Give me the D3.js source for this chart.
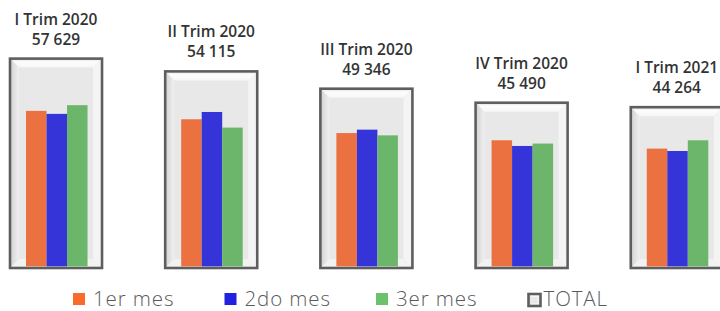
<!DOCTYPE html>
<html>
<head>
<meta charset="utf-8">
<script src="https://cdn.jsdelivr.net/npm/d3@7"></script>
<style>
  body { margin: 0; background: #fff; }
  svg { display: block; font-family: "Open Sans", Lato, sans-serif; }
</style>
</head>
<body>
<svg id="chart" width="720" height="311"></svg>
<script>
"use strict";

var quarters = ["I Trim 2020", "II Trim 2020", "III Trim 2020", "IV Trim 2020", "I Trim 2021"],
    months = ["1er mes", "2do mes", "3er mes"],
    totals = [57629, 54115, 49346, 45490, 44264],
    mes1 = [19100, 18080, 16404, 15529, 14515],
    mes2 = [18735, 18966, 16818, 14835, 14222],
    mes3 = [19794, 17069, 16124, 15126, 15527],
    monthColours = ["#ec7140", "#3434d8", "#6cb66c"],
    legendColours = ["#fa6a2c", "#2121e0", "#6cc26c"],

    plotTop = 50,
    plotBottom = 268,
    bevel = 9;

var fmt = d3.formatLocale({ decimal: ",", thousands: " ", grouping: [3], currency: ["", ""] }).format(",d");

var svg = d3.select("#chart");

var x = d3.scaleBand()
    .domain(quarters)
    .range([10, 722.8])
    .paddingInner(0.407)
    .paddingOuter(0);

// total on the main axis, months on a secondary one
var yTotal = d3.scaleLinear().domain([0, 60000]).range([plotBottom, plotTop]),
    yMonth = d3.scaleLinear().domain([0, 26500]).range([plotBottom, plotTop]);

var xMonth = d3.scaleBand()
    .domain(months)
    .range([16, x.bandwidth() - 14.5]);

var data = quarters.map(function(q, i) {
    return { quarter: q, total: totals[i], months: [mes1[i], mes2[i], mes3[i]] };
});

var defs = svg.append("defs");
var leftGrad = defs.append("linearGradient").attr("id", "bevel-left");
leftGrad.append("stop").attr("offset", "0%").attr("stop-color", "#d2d2d2");
leftGrad.append("stop").attr("offset", "100%").attr("stop-color", "#f0f0f0");
var topGrad = defs.append("linearGradient").attr("id", "bevel-top")
    .attr("x1", 0).attr("y1", 0).attr("x2", 0).attr("y2", 1);
topGrad.append("stop").attr("offset", "0%").attr("stop-color", "#e4e4e4");
topGrad.append("stop").attr("offset", "40%").attr("stop-color", "#fdfdfd");
topGrad.append("stop").attr("offset", "100%").attr("stop-color", "#f6f6f6");

var drawBox = function(g, x0, y0, x1, y1, b) {
    var poly = function(pts, fill) {
        g.append("polygon")
            .attr("points", pts.map(function(p) { return p.join(","); }).join(" "))
            .attr("fill", fill);
    };
    g.append("rect")
        .attr("x", x0).attr("y", y0)
        .attr("width", x1 - x0).attr("height", y1 - y0)
        .attr("fill", "#e8e8e8");
    poly([[x0, y0], [x1, y0], [x1 - b, y0 + b], [x0 + b, y0 + b]], "url(#bevel-top)");
    poly([[x0, y0], [x0 + b, y0 + b], [x0 + b, y1 - b], [x0, y1]], "url(#bevel-left)");
    poly([[x1, y0], [x1, y1], [x1 - b, y1 - b], [x1 - b, y0 + b]], "#f4f4f4");
    poly([[x0, y1], [x0 + b, y1 - b], [x1 - b, y1 - b], [x1, y1]], "#f2f2f2");
    g.append("rect")
        .attr("x", x0).attr("y", y0)
        .attr("width", x1 - x0).attr("height", y1 - y0)
        .attr("fill", "none")
        .attr("stroke", "#5e5e5e")
        .attr("stroke-width", 2.6);
};

var groups = svg.selectAll("g.quarter")
    .data(data)
    .enter()
    .append("g")
    .classed("quarter", true)
    .attr("transform", function(d) { return "translate(" + x(d.quarter) + ",0)"; });

groups.each(function(d) {
    drawBox(d3.select(this), 0, yTotal(d.total), x.bandwidth(), plotBottom, bevel);
});

groups.selectAll("rect.month")
    .data(function(d) {
        return d.months.map(function(v, i) { return { month: months[i], value: v, i: i }; });
    })
    .enter()
    .append("rect")
    .classed("month", true)
    .attr("x", function(d) { return xMonth(d.month); })
    .attr("y", function(d) { return yMonth(d.value); })
    .attr("width", xMonth.bandwidth())
    .attr("height", function(d) { return plotBottom - 1.6 - yMonth(d.value); })
    .attr("fill", function(d) { return monthColours[d.i]; });

var labels = groups.append("text")
    .attr("text-anchor", "middle")
    .attr("fill", "#333")
    .attr("font-weight", 600)
    .attr("font-size", 15.5);

labels.append("tspan")
    .attr("x", x.bandwidth() / 2)
    .attr("y", function(d) { return yTotal(d.total) - 34; })
    .text(function(d) { return d.quarter; });

labels.append("tspan")
    .attr("x", x.bandwidth() / 2)
    .attr("y", function(d) { return yTotal(d.total) - 14; })
    .text(function(d) { return fmt(d.total); });

// legend
var legendItems = months.concat(["TOTAL"]),
    legend = svg.append("g").attr("transform", "translate(73,293)");

var items = legend.selectAll("g")
    .data(legendItems)
    .enter()
    .append("g")
    .attr("transform", function(d, i) { return "translate(" + (i * 151.5) + ",0)"; });

items.each(function(d, i) {
    var g = d3.select(this);
    if (i < 3) {
        g.append("rect")
            .attr("width", 12).attr("height", 12)
            .attr("fill", legendColours[i]);
    } else {
        drawBox(g, 1, 1, 13, 13, 3);
    }
    g.append("text")
        .attr("x", i < 3 ? 20 : 16)
        .attr("y", 12.5)
        .attr("font-size", 20.5)
        .attr("font-weight", 300)
        .attr("letter-spacing", 0.9)
        .attr("fill", "#5a5a5a")
        .text(d);
});
</script>
</body>
</html>
